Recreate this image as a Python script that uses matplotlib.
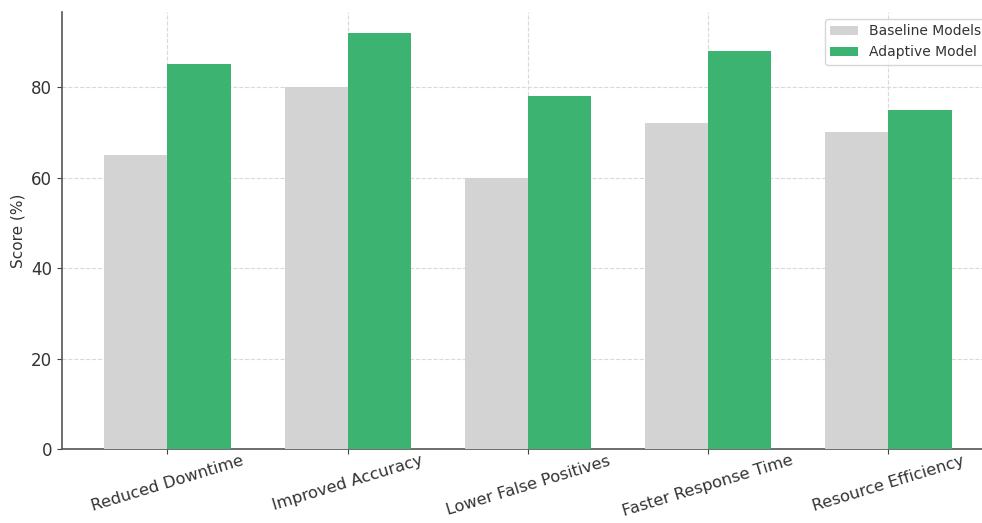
import matplotlib
matplotlib.use("Agg")
import matplotlib.pyplot as plt
import numpy as np

categories = ["Reduced Downtime", "Improved Accuracy", "Lower False Positives",
              "Faster Response Time", "Resource Efficiency"]
baseline_scores = [65, 80, 60, 72, 70]
adaptive_scores = [85, 92, 78, 88, 75]

fig = plt.figure(figsize=(9.82, 5.23), dpi=100)
ax = fig.add_axes([0.0631, 0.1415, 0.949, 0.8356])

x = np.arange(len(categories))
width = 0.35
ax.bar(x - width / 2, baseline_scores, width, color="#d3d3d3", label="Baseline Models", zorder=3)
ax.bar(x + width / 2, adaptive_scores, width, color="#3cb371", label="Adaptive Model", zorder=3)

ax.set_xticks(x)
ax.set_xticklabels(categories, rotation=17, ha="center", fontsize=11.7, color="#333333")
ax.tick_params(axis="y", labelsize=12, labelcolor="#333333", color="#444444", length=3.5)
ax.tick_params(axis="x", color="#444444", length=3.5, pad=-0.5)
ax.set_ylabel("Score (%)", fontsize=11, color="#333333")

ax.grid(True, linestyle="--", color="#d9d9d9", linewidth=0.8, zorder=0)
for side in ("top", "right"):
    ax.spines[side].set_visible(False)
for side in ("left", "bottom"):
    ax.spines[side].set_color("#555555")
    ax.spines[side].set_linewidth(1.2)

leg = ax.legend(loc="upper right", fontsize=10, frameon=True)
for t in leg.get_texts():
    t.set_color("#333333")

fig.savefig("out.png", dpi=100)
